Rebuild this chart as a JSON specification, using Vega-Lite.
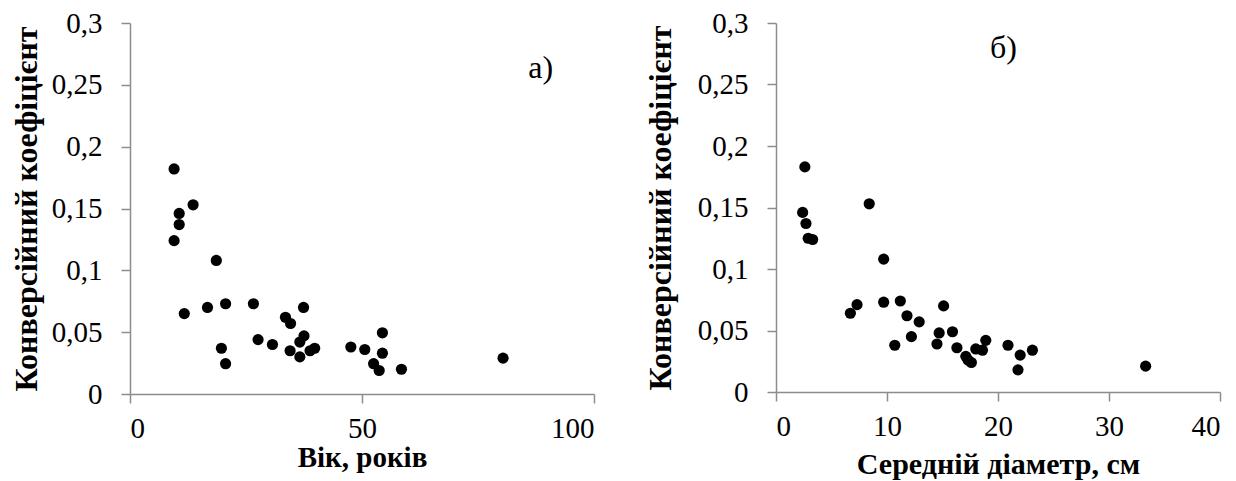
{
  "$schema": "https://vega.github.io/schema/vega-lite/v6.json",
  "padding": {"left": 10, "top": 9, "right": 5, "bottom": 5},
  "background": "white",
  "spacing": 49,
  "config": {
    "view": {"stroke": null},
    "font": "Liberation Serif",
    "axis": {
      "grid": false,
      "domainColor": "#8c8c8c",
      "tickColor": "#8c8c8c",
      "domainWidth": 1.5,
      "tickWidth": 1.5,
      "tickSize": 9,
      "labelFont": "Liberation Serif",
      "labelFontSize": 29,
      "labelColor": "#000000",
      "titleFont": "Liberation Serif",
      "titleFontSize": 29,
      "titleFontWeight": "bold",
      "titleColor": "#000000",
      "labelExpr": "replace(format(datum.value, '~g'), '.', ',')"
    },
    "axisX": {"labelPadding": 11},
    "axisY": {"labelPadding": 19, "titleFontSize": 32}
  },
  "datasets": {
    "age": [
      {"x": 9.5, "y": 0.182}, {"x": 13.6, "y": 0.153}, {"x": 10.6, "y": 0.146},
      {"x": 10.6, "y": 0.137}, {"x": 9.5, "y": 0.124}, {"x": 18.6, "y": 0.108},
      {"x": 11.7, "y": 0.065}, {"x": 16.7, "y": 0.070}, {"x": 20.6, "y": 0.073},
      {"x": 26.6, "y": 0.073}, {"x": 19.7, "y": 0.037}, {"x": 20.6, "y": 0.0245},
      {"x": 27.6, "y": 0.044}, {"x": 30.7, "y": 0.040}, {"x": 33.5, "y": 0.062},
      {"x": 34.6, "y": 0.057}, {"x": 37.4, "y": 0.070}, {"x": 37.5, "y": 0.047},
      {"x": 36.6, "y": 0.042}, {"x": 34.5, "y": 0.035}, {"x": 36.6, "y": 0.030},
      {"x": 38.8, "y": 0.035}, {"x": 39.8, "y": 0.037}, {"x": 47.6, "y": 0.038},
      {"x": 50.6, "y": 0.036}, {"x": 54.4, "y": 0.0495}, {"x": 54.4, "y": 0.033},
      {"x": 52.5, "y": 0.0245}, {"x": 53.7, "y": 0.019}, {"x": 58.5, "y": 0.020},
      {"x": 80.4, "y": 0.029}
    ],
    "diam": [
      {"x": 2.6, "y": 0.183}, {"x": 2.4, "y": 0.146}, {"x": 2.7, "y": 0.137},
      {"x": 2.9, "y": 0.125}, {"x": 3.3, "y": 0.124}, {"x": 8.4, "y": 0.153},
      {"x": 9.7, "y": 0.108}, {"x": 6.7, "y": 0.064}, {"x": 7.3, "y": 0.071},
      {"x": 9.7, "y": 0.073}, {"x": 11.2, "y": 0.074}, {"x": 11.8, "y": 0.062},
      {"x": 12.9, "y": 0.057}, {"x": 10.7, "y": 0.038}, {"x": 12.2, "y": 0.045},
      {"x": 15.1, "y": 0.070}, {"x": 14.7, "y": 0.048}, {"x": 14.5, "y": 0.039},
      {"x": 15.9, "y": 0.049}, {"x": 16.3, "y": 0.036}, {"x": 17.1, "y": 0.029},
      {"x": 17.3, "y": 0.026}, {"x": 17.6, "y": 0.024}, {"x": 18.0, "y": 0.035},
      {"x": 18.6, "y": 0.034}, {"x": 18.9, "y": 0.042}, {"x": 20.9, "y": 0.038},
      {"x": 22.0, "y": 0.030}, {"x": 21.8, "y": 0.018}, {"x": 23.1, "y": 0.034},
      {"x": 33.3, "y": 0.021}
    ],
    "labA": [{"x": 88.5, "y": 0.264, "t": "а)"}],
    "labB": [{"x": 20.5, "y": 0.28, "t": "б)"}]
  },
  "hconcat": [
    {
      "width": 464,
      "height": 371,
      "layer": [
        {
          "data": {"name": "age"},
          "mark": {"type": "point", "filled": true, "color": "#000000", "size": 125, "opacity": 1},
          "encoding": {
            "x": {"field": "x", "type": "quantitative", "scale": {"domain": [0, 100], "nice": false},
                  "axis": {"values": [0, 50, 100], "title": "Вік, років", "titlePadding": 0}},
            "y": {"field": "y", "type": "quantitative", "scale": {"domain": [0, 0.3], "nice": false},
                  "axis": {"values": [0, 0.05, 0.1, 0.15, 0.2, 0.25, 0.3], "title": "Конверсійний коефіцієнт", "titlePadding": 8}}
          }
        },
        {
          "data": {"name": "labA"},
          "mark": {"type": "text", "fontSize": 32, "font": "Liberation Serif", "color": "#000000"},
          "encoding": {
            "x": {"field": "x", "type": "quantitative"},
            "y": {"field": "y", "type": "quantitative"},
            "text": {"field": "t"}
          }
        }
      ]
    },
    {
      "width": 444,
      "height": 369,
      "layer": [
        {
          "data": {"name": "diam"},
          "mark": {"type": "point", "filled": true, "color": "#000000", "size": 125, "opacity": 1},
          "encoding": {
            "x": {"field": "x", "type": "quantitative", "scale": {"domain": [0, 40], "nice": false},
                  "axis": {"values": [0, 10, 20, 30, 40], "title": "Середній діаметр, см", "titlePadding": 8, "titleFontSize": 30}},
            "y": {"field": "y", "type": "quantitative", "scale": {"domain": [0, 0.3], "nice": false},
                  "axis": {"values": [0, 0.05, 0.1, 0.15, 0.2, 0.25, 0.3], "title": "Конверсійний коефіцієнт", "titlePadding": 20}}
          }
        },
        {
          "data": {"name": "labB"},
          "mark": {"type": "text", "fontSize": 32, "font": "Liberation Serif", "color": "#000000"},
          "encoding": {
            "x": {"field": "x", "type": "quantitative"},
            "y": {"field": "y", "type": "quantitative"},
            "text": {"field": "t"}
          }
        }
      ]
    }
  ]
}
